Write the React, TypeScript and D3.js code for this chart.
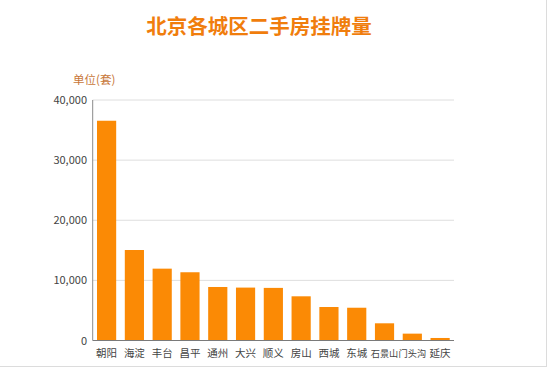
import React from "react";
import * as d3 from "d3";

const categories = ["朝阳", "海淀", "丰台", "昌平", "通州", "大兴", "顺义", "房山", "西城", "东城", "石景山", "门头沟", "延庆"];
const values = [36550, 15050, 11950, 11350, 8900, 8800, 8750, 7350, 5570, 5450, 2860, 1140, 420];
const yTicks = [0, 10000, 20000, 30000, 40000];
const title = "北京各城区二手房挂牌量";
const unitLabel = "单位(套)";

const W = 550, H = 369;
const margin = { left: 92.7, right: 96, top: 100, bottom: 28.5 };

export default function App() {
  const x = d3.scaleBand<string>().domain(categories).range([margin.left, W - margin.right]).paddingInner(0.31).paddingOuter(0.155);
  const y = d3.scaleLinear().domain([0, 40000]).range([H - margin.bottom, margin.top]);
  const fmt = d3.format(",");
  const x0 = margin.left, x1 = W - margin.right;
  return (
    <svg width={W} height={H} style={{ position: "absolute", left: 0, top: 0, background: "#fff" }}
      fontFamily="'Noto Sans CJK SC', 'Noto Sans', sans-serif">
      <rect x={0} y={0} width={W} height={H} fill="#fff" />
      <line x1={546.5} y1={0} x2={546.5} y2={367} stroke="#dcdcdc" />
      <line x1={0} y1={366.5} x2={547} y2={366.5} stroke="#dcdcdc" />
      <text x={259} y={34} textAnchor="middle" fontSize={20.5} fontWeight="bold" fill="#f07d0c">{title}</text>
      <text x={73} y={84} fontSize={11.5} fill="#c8773a">{unitLabel}</text>
      {yTicks.map(t => (
        <g key={t}>
          {t > 0 && <line x1={x0} x2={x1} y1={y(t)} y2={y(t)} stroke="#dedede" />}
          <text x={87} y={y(t) + 4} textAnchor="end" fontSize={11} fill="#444">{fmt(t)}</text>
        </g>
      ))}
      {categories.map((c, i) => (
        <rect key={c} x={x(c)} y={y(values[i])} width={x.bandwidth()} height={y(0) - y(values[i])} fill="#fb8a05" />
      ))}
      <line x1={x0} x2={x0} y1={y(40000)} y2={y(0)} stroke="#8a8a8a" />
      <line x1={x0} x2={x1} y1={y(0)} y2={y(0)} stroke="#7a7a7a" />
      {categories.map(c => (
        <text key={c} x={(x(c) as number) + x.bandwidth() / 2} y={357} textAnchor="middle"
          fontSize={c.length > 2 ? 9.2 : 10.5} fill="#444">{c}</text>
      ))}
    </svg>
  );
}
